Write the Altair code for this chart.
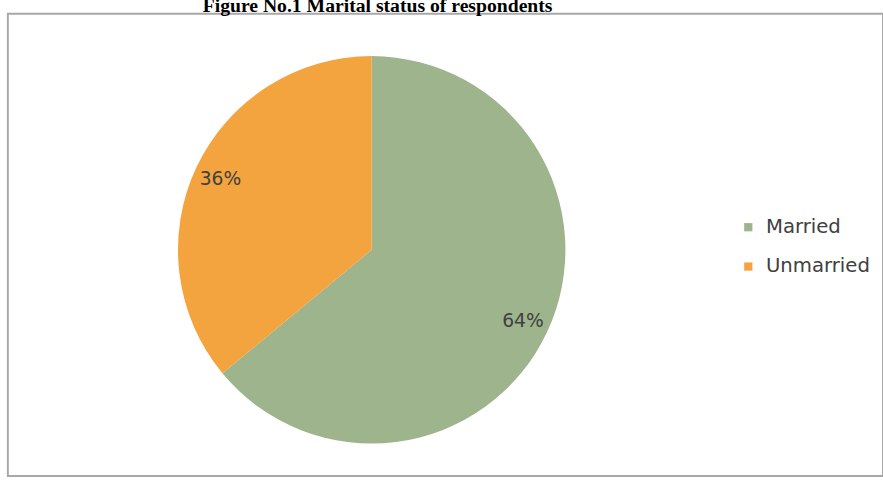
import altair as alt
import pandas as pd

categories = ["Married", "Unmarried"]
values = [64, 36]
labels = ["64%", "36%"]
order = [1, 2]
colors = ["#9EB48C", "#F3A43F"]
title_text = "Figure No.1 Marital status of respondents"

df = pd.DataFrame({"status": categories, "value": values, "label": labels, "ord": order})

CX, CY = 370, 240  # pie centre inside the view

base = alt.Chart(df).encode(
    theta=alt.Theta("value:Q", stack=True),
    order=alt.Order("ord:Q"),
    x=alt.value(CX),
    y=alt.value(CY),
)

pie = base.mark_arc(radius=197).encode(
    color=alt.Color(
        "status:N",
        scale=alt.Scale(domain=categories, range=colors),
        legend=alt.Legend(
            title=None,
            orient="none",
            legendX=743,
            legendY=207,
            symbolType="square",
            symbolSize=70,
            symbolStrokeWidth=0,
            labelFontSize=20,
            labelFont="DejaVu Sans",
            labelColor="#404040",
            rowPadding=20,
            labelOffset=8,
        ),
    )
)

text = base.mark_text(radius=170, font="DejaVu Sans", fontSize=19, color="#404040").encode(
    text="label:N"
)

title_df = pd.DataFrame({"t": [title_text]})
title = alt.Chart(title_df).mark_text(
    font="Liberation Serif", fontWeight="bold", fontSize=20, color="#000000",
    baseline="alphabetic", align="center",
).encode(text="t:N", x=alt.value(376), y=alt.value(-2))

chart = (
    alt.layer(pie, text, title)
    .properties(
        width=890,
        height=470,
        autosize=alt.AutoSizeParams(type="none"),
        padding={"left": 8, "top": 10, "right": 0, "bottom": 0},
        background="white",
    )
    .configure_view(stroke="#A8A8A8", strokeWidth=2)
)

chart.save("out.html", embed_options={"renderer": "svg", "actions": False})
